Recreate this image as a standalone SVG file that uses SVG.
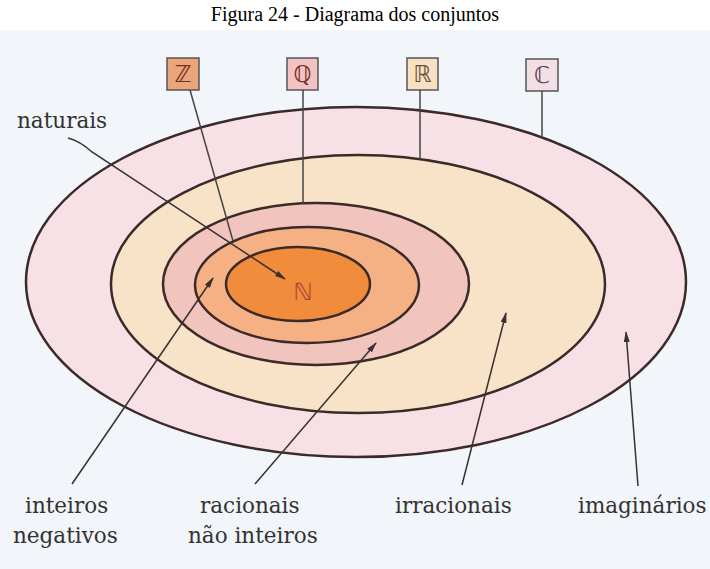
<svg xmlns="http://www.w3.org/2000/svg" width="710" height="569" viewBox="0 0 710 569">
<defs>
<style>
.title{font-family:"Liberation Serif","Times New Roman",serif;font-size:20px;fill:#000}
.lbl{font-family:"DejaVu Serif","Liberation Serif",serif;font-size:21.5px;fill:#333}
.ring{stroke:#3a2a28;stroke-width:2.5}
.box{stroke:#555;stroke-width:1.5}
.sym{font-family:"DejaVu Sans","Noto Sans",sans-serif;font-size:23px;text-anchor:middle}
.lead{stroke:#444;stroke-width:1.5;fill:none}
.arr{stroke:#3a3030;stroke-width:1.5;fill:none;marker-end:url(#ah)}
</style>
<marker id="ah" viewBox="0 0 11 6" refX="10" refY="3" markerWidth="11" markerHeight="6" markerUnits="userSpaceOnUse" orient="auto">
<path d="M0,0 L11,3 L0,6 z" fill="#3a3030"/>
</marker>
</defs>
<rect x="0" y="0" width="710" height="569" fill="#ffffff"/>
<rect x="0" y="30" width="710" height="539" fill="#f2f5f9"/>
<text class="title" x="355" y="21" text-anchor="middle">Figura 24 - Diagrama dos conjuntos</text>

<g id="set-C"><ellipse class="ring" cx="356" cy="282" rx="330" ry="175" fill="#f7e0e6"/></g>
<g id="set-R"><ellipse class="ring" cx="358" cy="284" rx="247" ry="129" fill="#f9e3c8"/></g>
<g id="set-Q"><ellipse class="ring" cx="316" cy="284" rx="153" ry="81" fill="#f2c4be"/></g>
<g id="set-Z"><ellipse class="ring" cx="307" cy="285" rx="112" ry="58" fill="#f5b184"/></g>
<g id="set-N"><ellipse class="ring" cx="298" cy="284" rx="72" ry="37" fill="#f08c3c"/>
<text x="303" y="300" style="font-family:'DejaVu Sans',sans-serif;font-size:24px;fill:#a84a3a;text-anchor:middle">ℕ</text></g>

<g id="box-Z"><rect class="box" x="167" y="58" width="32" height="32" fill="#eaa57a"/><text class="sym" x="183" y="82" fill="#7a3020">ℤ</text></g>
<g id="box-Q"><rect class="box" x="287" y="58" width="31" height="32" fill="#f2c3c3"/><text class="sym" x="302.5" y="82" fill="#7a2a2a">ℚ</text></g>
<g id="box-R"><rect class="box" x="407" y="58" width="31" height="32" fill="#f6e1c2"/><text class="sym" x="422.5" y="82" fill="#6a5030">ℝ</text></g>
<g id="box-C"><rect class="box" x="526" y="59" width="32" height="32" fill="#f2dfe5"/><text class="sym" x="542" y="83" fill="#5a4050">ℂ</text></g>

<g id="label-naturais"><text class="lbl" x="17" y="128">naturais</text></g>
<g id="label-inteiros"><text class="lbl" x="25" y="513">inteiros</text><text class="lbl" x="13" y="543">negativos</text></g>
<g id="label-racionais"><text class="lbl" x="200" y="513">racionais</text><text class="lbl" x="188" y="543">não inteiros</text></g>
<g id="label-irracionais"><text class="lbl" x="395" y="513">irracionais</text></g>
<g id="label-imaginarios"><text class="lbl" x="578" y="513">imaginários</text></g>

<g id="connectors">
<line class="lead" x1="190" y1="90" x2="233" y2="241"/>
<line class="lead" x1="303" y1="90" x2="303" y2="203"/>
<line class="lead" x1="420" y1="90" x2="420" y2="159"/>
<line class="lead" x1="542" y1="91" x2="542" y2="138"/>
<path class="arr" d="M68,138 Q80,141 92,152 L285,279"/>
<path class="arr" d="M72,484 L213,278"/>
<path class="arr" d="M255,484 L376,343"/>
<path class="arr" d="M462,485 L506,313"/>
<path class="arr" d="M638,486 L626,332"/>
</g>
</svg>
